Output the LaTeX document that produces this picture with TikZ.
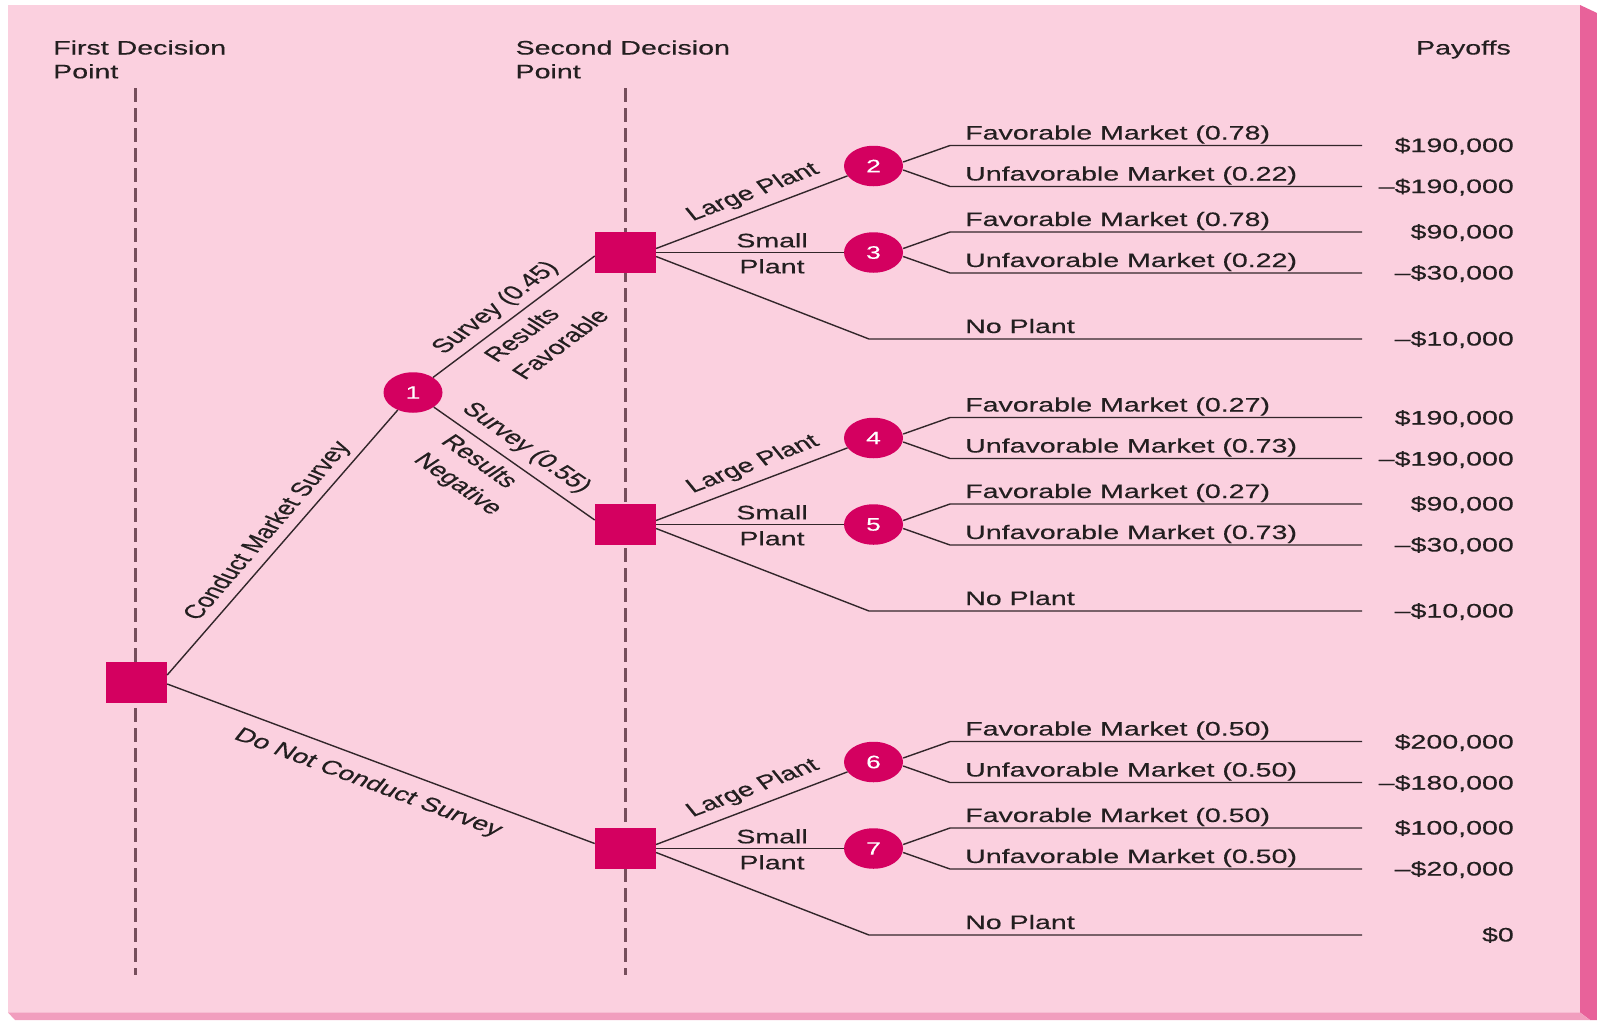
\documentclass[tikz,border=0pt]{standalone}
\usepackage{fontspec}
\setmainfont{Liberation Sans}
\newfontfamily\widefont[FakeStretch=1.465,FakeBold=0.35]{Liberation Sans}
\newfontfamily\slantfont[FakeBold=0.35]{Liberation Sans}
\usetikzlibrary{shapes.geometric,calc}

\definecolor{panel}{RGB}{251,208,223}
\definecolor{sideface}{RGB}{232,98,154}
\definecolor{bottomface}{RGB}{241,158,190}
\definecolor{nodefill}{RGB}{212,0,96}
\definecolor{ink}{RGB}{35,31,32}
\definecolor{wirecol}{RGB}{50,38,42}
\definecolor{guidecol}{RGB}{118,78,92}

\begin{document}
\begin{tikzpicture}[x=1pt,y=-1pt,
  decision/.style={rectangle, fill=nodefill, minimum width=61pt, minimum height=41pt, inner sep=0pt},
  chance/.style={ellipse, fill=nodefill, minimum width=59pt, minimum height=40.5pt, inner sep=0pt,
    text=white, font=\widefont\fontsize{18}{20}\selectfont},
  wire/.style={draw=wirecol, line width=1.4pt},
  guide/.style={draw=guidecol, line width=2.6pt, dash pattern=on 13.5pt off 6.5pt},
  hlabel/.style={inner sep=0pt, text=ink, font=\widefont\fontsize{19.5}{22}\selectfont},
  rlabel/.style={inner sep=0pt, text=ink, font=\slantfont\fontsize{19.5}{26}\selectfont, xscale=1.465, align=left},
]
\useasboundingbox (0,0) rectangle (1597,1020);

% panel with its raised edges
\fill[white] (0,0) rectangle (1597,1020);
\fill[panel] (8,5) rectangle (1580,1012.5);
\fill[sideface] (1580,5) -- (1597,13) -- (1597,1020) -- (1590,1020) -- (1580,1012.5) -- cycle;
\fill[bottomface] (8,1012.5) -- (1580,1012.5) -- (1590,1020) -- (15,1020) -- cycle;

% headings
\node[hlabel, anchor=base west] (h1a) at (53,54.5) {First Decision};
\node[hlabel, anchor=base west] (h1b) at (53,78.3) {Point};
\node[hlabel, anchor=base west] (h2a) at (515.4,54.5) {Second Decision};
\node[hlabel, anchor=base west] (h2b) at (515.4,78.3) {Point};
\node[hlabel, anchor=base east] (h3) at (1511,54.5) {Payoffs};

% decision-point guides
\coordinate (g1t) at (135.5,88);  \coordinate (g1b) at (135.5,975);
\coordinate (g2t) at (625.4,88);  \coordinate (g2b) at (625.4,975);
\draw[guide] (g1t) -- (g1b);
\draw[guide] (g2t) -- (g2b);

% first decision and the survey chance node
\node[decision] (d0) at (136.5,682.5) {};
\node[chance] (c1) at (413,392.5) {1};

% second decisions with their chance nodes and outcomes
\foreach \d/\Y/\pf/\pu/\ca/\cb in {d1/252.5/0.78/0.22/2/3, d2/524.5/0.27/0.73/4/5, d3/848.5/0.50/0.50/6/7} {
  \node[decision] (\d) at (625.4,\Y) {};
  \node[chance] (c\ca) at (873.5,{\Y-86.5}) {\ca};
  \node[chance] (c\cb) at (873.5,\Y) {\cb};
  % large plant
  \draw[wire] ($(\d.east)+(0,-4)$) -- (c\ca);
  \node[rlabel, rotate=29.06] (\d-lp) at (753,{\Y-60}) {Large Plant};
  % small plant
  \draw[wire] (\d.east) -- (c\cb.west);
  \node[hlabel, anchor=base] (\d-spa) at (772,{\Y-5.2}) {Small};
  \node[hlabel, anchor=base] (\d-spb) at (772,{\Y+20.8}) {Plant};
  % no plant
  \coordinate (\d-np) at (869,{\Y+86.5});
  \coordinate (\d-npe) at (1362,{\Y+86.5});
  \draw[wire] ($(\d.east)+(0,4)$) -- (\d-np) -- (\d-npe);
  \node[hlabel, anchor=base west] (\d-npl) at (965,{\Y+80.5}) {No Plant};
  % market outcomes
  \foreach \c/\off in {\ca/-86.5, \cb/0} {
    \pgfmathsetmacro\yc{\Y+\off}
    \coordinate (c\c-fk) at (950,{\yc-20.5});
    \coordinate (c\c-fe) at (1362,{\yc-20.5});
    \coordinate (c\c-uk) at (950,{\yc+20.5});
    \coordinate (c\c-ue) at (1362,{\yc+20.5});
    \draw[wire] ($(c\c.east)+(0,-4)$) -- (c\c-fk) -- (c\c-fe);
    \draw[wire] ($(c\c.east)+(0,4)$) -- (c\c-uk) -- (c\c-ue);
    \node[hlabel, anchor=base west] (c\c-fl) at (965,{\yc-26.5}) {Favorable Market (\pf)};
    \node[hlabel, anchor=base west] (c\c-ul) at (965,{\yc+14.5}) {Unfavorable Market (\pu)};
  }
}

% first-stage branches
\draw[wire] ($(d0.east)+(0,-7.5)$) -- (c1);
\draw[wire] ($(d0.east)+(0,1.5)$) -- ($(d3.west)+(0,-5)$);
\draw[wire] (c1) -- ($(d1.west)+(0,3.5)$);
\draw[wire] (c1) -- ($(d2.west)+(0,-4.5)$);

% branch labels
\node[rlabel, rotate=59.3] (l-cms) at (268,531) {Conduct Market Survey};
\node[rlabel, rotate=47.7] (l-s45) at (496,308) {Survey (0.45)};
\node[rlabel, rotate=47.7] (l-fav) at (546,335) {Results\\Favorable};
\node[rlabel, rotate=-45.7] (l-s55) at (526,448) {Survey (0.55)};
\node[rlabel, rotate=-45.7] (l-neg) at (471,475.5) {Results\\Negative};
\node[rlabel, rotate=-28.6] (l-dnc) at (368,783) {Do Not Conduct Survey};

% payoffs
\node[hlabel, anchor=base east] (p1)  at (1514,152)   {\$190,000};
\node[hlabel, anchor=base east] (p2)  at (1514,193)   {–\$190,000};
\node[hlabel, anchor=base east] (p3)  at (1514,238.5) {\$90,000};
\node[hlabel, anchor=base east] (p4)  at (1514,279.5) {–\$30,000};
\node[hlabel, anchor=base east] (p5)  at (1514,345.5) {–\$10,000};
\node[hlabel, anchor=base east] (p6)  at (1514,424.5) {\$190,000};
\node[hlabel, anchor=base east] (p7)  at (1514,465.5) {–\$190,000};
\node[hlabel, anchor=base east] (p8)  at (1514,510.5) {\$90,000};
\node[hlabel, anchor=base east] (p9)  at (1514,551.5) {–\$30,000};
\node[hlabel, anchor=base east] (p10) at (1514,617.5) {–\$10,000};
\node[hlabel, anchor=base east] (p11) at (1514,748.5) {\$200,000};
\node[hlabel, anchor=base east] (p12) at (1514,789.5) {–\$180,000};
\node[hlabel, anchor=base east] (p13) at (1514,834.5) {\$100,000};
\node[hlabel, anchor=base east] (p14) at (1514,875.5) {–\$20,000};
\node[hlabel, anchor=base east] (p15) at (1514,941.5) {\$0};
\end{tikzpicture}
\end{document}
